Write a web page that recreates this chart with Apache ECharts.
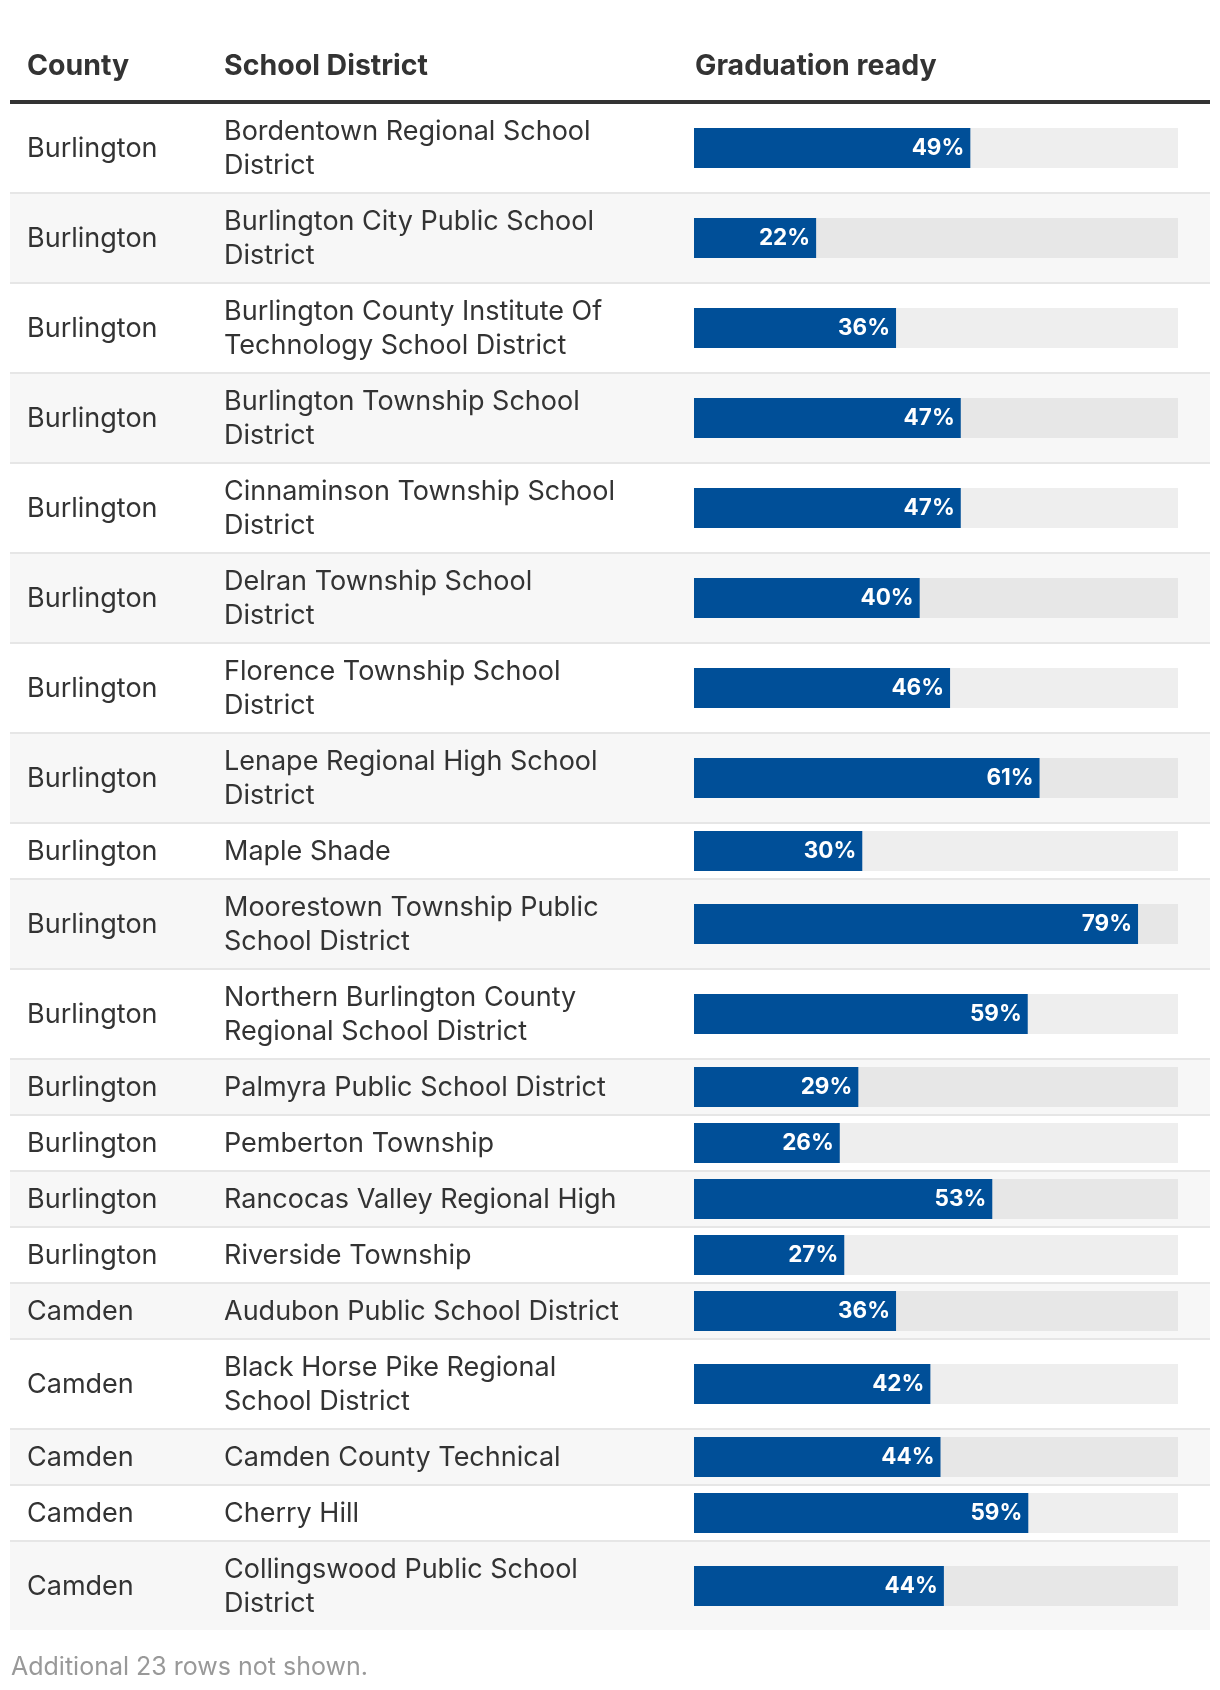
<!DOCTYPE html>
<html>
<head>
<meta charset="utf-8">
<script src="https://cdn.jsdelivr.net/npm/echarts@6/dist/echarts.min.js"></script>
<style>
html,body{margin:0;padding:0;background:#ffffff;}
#chart{width:1220px;height:1690px;}
</style>
</head>
<body>
<div id="chart"></div>
<script>
// ---- data ----
const headers = ['County', 'School District', 'Graduation ready'];
const counties = [
  'Burlington','Burlington','Burlington','Burlington','Burlington',
  'Burlington','Burlington','Burlington','Burlington','Burlington',
  'Burlington','Burlington','Burlington','Burlington','Burlington',
  'Camden','Camden','Camden','Camden','Camden'
];
const districts = [
  'Bordentown Regional School\nDistrict',
  'Burlington City Public School\nDistrict',
  'Burlington County Institute Of\nTechnology School District',
  'Burlington Township School\nDistrict',
  'Cinnaminson Township School\nDistrict',
  'Delran Township School\nDistrict',
  'Florence Township School\nDistrict',
  'Lenape Regional High School\nDistrict',
  'Maple Shade',
  'Moorestown Township Public\nSchool District',
  'Northern Burlington County\nRegional School District',
  'Palmyra Public School District',
  'Pemberton Township',
  'Rancocas Valley Regional High',
  'Riverside Township',
  'Audubon Public School District',
  'Black Horse Pike Regional\nSchool District',
  'Camden County Technical',
  'Cherry Hill',
  'Collingswood Public School\nDistrict'
];
const gradReady = [49.1, 21.7, 35.9, 47.4, 47.4, 40.1, 45.5, 61.4, 29.9, 78.9,
                   59.3, 29.2, 25.9, 53.0, 26.7, 35.9, 42.0, 43.8, 59.4, 44.4];
const scaleMax = 86;
const footnote = 'Additional 23 rows not shown.';

// ---- layout / style ----
const FONT = 'Inter, "Noto Sans", sans-serif';
const TEXT = '#333333';
const BAR = '#004f98';
const tableX = 10, tableW = 1200;
const colX = [27, 224, 695];
const barLeft = 694, barW = 484;

const chart = echarts.init(document.getElementById('chart'), null, {renderer: 'canvas'});

const graphic = [];
const grid = [], xAxis = [], yAxis = [], series = [];

// header
headers.forEach((h, k) => {
  graphic.push({
    type: 'text', silent: true,
    style: {x: colX[k], y: 66, text: h, fill: TEXT,
            font: '700 28.5px ' + FONT, align: 'left', verticalAlign: 'middle'}
  });
});
graphic.push({type: 'rect', silent: true,
  shape: {x: tableX, y: 100, width: tableW, height: 4}, style: {fill: '#333333'}});

let y = 104;
const n = districts.length;
for (let i = 0; i < n; i++) {
  const lines = districts[i].split('\n').length;
  const h = lines > 1 ? 88 : 54;
  const odd = i % 2 === 1;
  graphic.push({type: 'rect', silent: true, z: -10,
    shape: {x: tableX, y: y, width: tableW, height: h},
    style: {fill: odd ? '#f7f7f7' : '#ffffff'}});
  if (i < n - 1) {
    graphic.push({type: 'rect', silent: true, z: -10,
      shape: {x: tableX, y: y + h, width: tableW, height: 2},
      style: {fill: '#e6e6e6'}});
  }
  const cy = y + h / 2 + 1;
  graphic.push({type: 'text', silent: true,
    style: {x: colX[0], y: cy, text: counties[i], fill: TEXT,
            font: '400 27px ' + FONT, align: 'left', verticalAlign: 'middle'}});
  graphic.push({type: 'text', silent: true,
    style: {x: colX[1], y: cy, text: districts[i], fill: TEXT, lineHeight: 33.5,
            font: '400 27px ' + FONT, align: 'left', verticalAlign: 'middle'}});

  grid.push({left: barLeft, top: y, width: barW, height: h, containLabel: false});
  xAxis.push({type: 'value', gridIndex: i, min: 0, max: scaleMax, show: false});
  yAxis.push({type: 'category', gridIndex: i, data: [districts[i]], show: false});
  series.push({
    type: 'bar', xAxisIndex: i, yAxisIndex: i, silent: true,
    data: [gradReady[i]], barWidth: 40,
    showBackground: true,
    backgroundStyle: {color: odd ? '#e7e7e7' : '#eeeeee'},
    itemStyle: {color: BAR},
    label: {show: true, position: 'insideRight', distance: 6,
            color: '#ffffff', fontFamily: FONT, fontWeight: 700, fontSize: 22.5,
            formatter: p => Math.round(p.value) + '%'}
  });
  y += h + 2;
}

graphic.push({type: 'text', silent: true,
  style: {x: 11, y: 1667, text: footnote, fill: '#999999',
          font: '400 25px ' + FONT, align: 'left', verticalAlign: 'middle'}});

chart.setOption({
  animation: false,
  backgroundColor: '#ffffff',
  grid, xAxis, yAxis, series, graphic
});
</script>
</body>
</html>
